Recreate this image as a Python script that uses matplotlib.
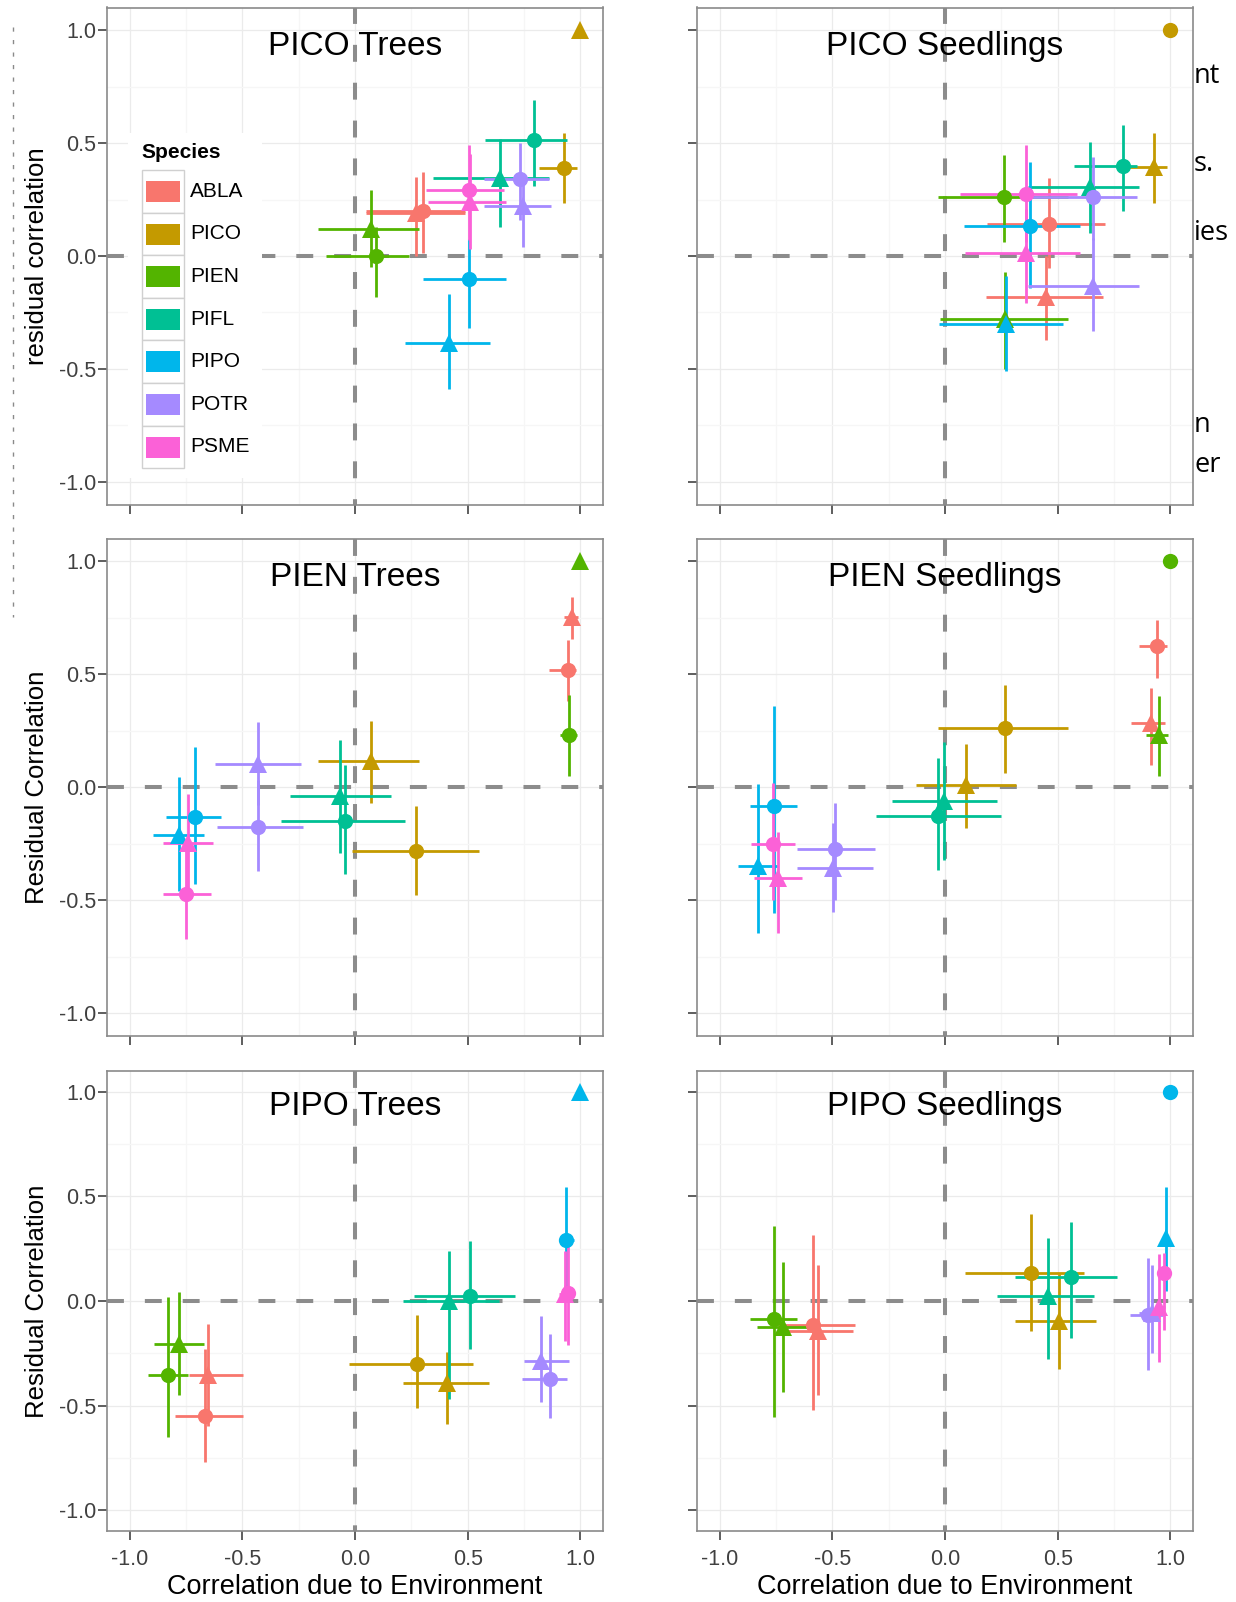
import numpy as np
import matplotlib
matplotlib.use("Agg")
import matplotlib.pyplot as plt
from matplotlib.patches import Rectangle
from matplotlib.lines import Line2D

plt.rcParams["font.family"] = ["Liberation Sans", "DejaVu Sans"]
plt.rcParams["axes.unicode_minus"] = False

species = ["ABLA", "PICO", "PIEN", "PIFL", "PIPO", "POTR", "PSME"]
colours = ["#F8766D", "#C49A00", "#53B400", "#00C094", "#00B6EB", "#A58AFF", "#FB61D7"]

# every panel holds the same 14 points: species x (circle, triangle)
pt_sp = ["ABLA", "ABLA", "PICO", "PICO", "PIEN", "PIEN", "PIFL", "PIFL",
         "PIPO", "PIPO", "POTR", "POTR", "PSME", "PSME"]
pt_mk = ["o", "^"] * 7

nan = np.nan

# PICO Trees
pico_tr_x   = [0.30, 0.27, 0.925, 1.0, 0.095, 0.07, 0.795, 0.645, 0.505, 0.415, 0.73, 0.745, 0.505, 0.51]
pico_tr_xlo = [0.05, 0.05, 0.815, nan, -0.13, -0.165, 0.575, 0.345, 0.30, 0.22, 0.57, 0.57, 0.315, 0.325]
pico_tr_xhi = [0.49, 0.49, 0.985, nan, 0.24, 0.285, 0.94, 0.86, 0.67, 0.60, 0.86, 0.87, 0.66, 0.67]
pico_tr_y   = [0.20, 0.19, 0.39, 1.0, 0.0, 0.12, 0.515, 0.345, -0.10, -0.385, 0.34, 0.22, 0.29, 0.24]
pico_tr_ylo = [0.015, 0.0, 0.235, nan, -0.18, -0.05, 0.31, 0.13, -0.32, -0.59, 0.16, 0.04, 0.07, 0.03]
pico_tr_yhi = [0.37, 0.35, 0.545, nan, 0.13, 0.29, 0.69, 0.52, 0.075, -0.17, 0.50, 0.35, 0.49, 0.45]

# PICO Seedlings
pico_se_x   = [0.46, 0.45, 1.0, 0.925, 0.26, 0.265, 0.79, 0.645, 0.375, 0.27, 0.655, 0.655, 0.36, 0.36]
pico_se_xlo = [0.185, 0.18, nan, 0.815, -0.03, -0.02, 0.57, 0.37, 0.085, -0.025, 0.37, 0.37, 0.065, 0.09]
pico_se_xhi = [0.71, 0.70, nan, 0.985, 0.545, 0.545, 0.85, 0.86, 0.60, 0.525, 0.85, 0.86, 0.585, 0.60]
pico_se_y   = [0.14, -0.18, 1.0, 0.395, 0.26, -0.28, 0.40, 0.305, 0.135, -0.30, 0.26, -0.135, 0.275, 0.012]
pico_se_ylo = [-0.055, -0.37, nan, 0.235, 0.06, -0.50, 0.20, 0.10, -0.14, -0.51, 0.07, -0.33, 0.06, -0.21]
pico_se_yhi = [0.345, 0.0, nan, 0.545, 0.445, -0.07, 0.58, 0.505, 0.415, -0.09, 0.44, 0.08, 0.49, 0.21]

# PIEN Trees
pien_tr_x   = [0.945, 0.962, 0.27, 0.07, 0.95, 1.0, -0.045, -0.065, -0.71, -0.78, -0.43, -0.43, -0.75, -0.74]
pien_tr_xlo = [0.86, 0.925, -0.015, -0.165, 0.91, nan, -0.33, -0.29, -0.84, -0.895, -0.61, -0.62, -0.85, -0.85]
pien_tr_xhi = [0.98, 0.99, 0.55, 0.285, 0.985, nan, 0.22, 0.16, -0.595, -0.67, -0.23, -0.24, -0.64, -0.63]
pien_tr_y   = [0.52, 0.755, -0.28, 0.115, 0.23, 1.0, -0.15, -0.04, -0.13, -0.21, -0.175, 0.105, -0.47, -0.245]
pien_tr_ylo = [0.38, 0.655, -0.475, -0.07, 0.05, nan, -0.385, -0.29, -0.43, -0.46, -0.37, -0.08, -0.67, -0.45]
pien_tr_yhi = [0.65, 0.84, -0.085, 0.295, 0.41, nan, 0.10, 0.21, 0.18, 0.045, 0.03, 0.29, -0.26, -0.03]

# PIEN Seedlings
pien_se_x   = [0.94, 0.915, 0.265, 0.095, 1.0, 0.95, -0.03, -0.005, -0.76, -0.83, -0.49, -0.495, -0.765, -0.74]
pien_se_xlo = [0.86, 0.825, -0.03, -0.13, nan, 0.89, -0.305, -0.235, -0.865, -0.92, -0.655, -0.655, -0.86, -0.845]
pien_se_xhi = [0.985, 0.975, 0.545, 0.315, nan, 0.99, 0.25, 0.23, -0.655, -0.74, -0.31, -0.32, -0.665, -0.635]
pien_se_y   = [0.625, 0.285, 0.26, 0.012, 1.0, 0.23, -0.125, -0.06, -0.085, -0.35, -0.275, -0.355, -0.25, -0.40]
pien_se_ylo = [0.485, 0.10, 0.065, -0.18, nan, 0.05, -0.365, -0.32, -0.555, -0.645, -0.50, -0.55, -0.50, -0.645]
pien_se_yhi = [0.74, 0.44, 0.45, 0.19, nan, 0.405, 0.13, 0.20, 0.36, 0.015, -0.07, -0.16, 0.02, -0.20]

# PIPO Trees
pipo_tr_x   = [-0.665, -0.65, 0.275, 0.41, -0.83, -0.78, 0.51, 0.415, 0.935, 1.0, 0.865, 0.825, 0.945, 0.93]
pipo_tr_xlo = [-0.80, -0.735, -0.025, 0.215, -0.92, -0.89, 0.26, 0.215, 0.91, nan, 0.74, 0.75, 0.925, 0.905]
pipo_tr_xhi = [-0.495, -0.495, 0.525, 0.595, -0.74, -0.67, 0.71, 0.64, 0.97, nan, 0.94, 0.95, 0.975, 0.96]
pipo_tr_y   = [-0.55, -0.355, -0.30, -0.39, -0.355, -0.205, 0.025, 0.0, 0.29, 1.0, -0.375, -0.285, 0.04, 0.035]
pipo_tr_ylo = [-0.77, -0.60, -0.51, -0.59, -0.65, -0.45, -0.23, -0.47, 0.04, nan, -0.56, -0.485, -0.21, -0.19]
pipo_tr_yhi = [-0.23, -0.11, -0.065, -0.245, 0.02, 0.045, 0.285, 0.24, 0.545, nan, -0.16, -0.07, 0.27, 0.24]

# PIPO Seedlings
pipo_se_x   = [-0.585, -0.565, 0.38, 0.505, -0.76, -0.72, 0.56, 0.455, 1.0, 0.98, 0.90, 0.92, 0.97, 0.95]
pipo_se_xlo = [-0.74, -0.705, 0.09, 0.31, -0.865, -0.835, 0.31, 0.23, nan, 0.965, 0.82, 0.86, 0.955, 0.935]
pipo_se_xhi = [-0.40, -0.41, 0.615, 0.67, -0.655, -0.605, 0.765, 0.66, nan, 0.995, 0.965, 0.97, 0.99, 0.975]
pipo_se_y   = [-0.115, -0.145, 0.135, -0.095, -0.085, -0.125, 0.115, 0.025, 1.0, 0.30, -0.067, -0.055, 0.134, -0.03]
pipo_se_ylo = [-0.52, -0.45, -0.145, -0.325, -0.555, -0.435, -0.175, -0.275, nan, 0.05, -0.33, -0.25, -0.14, -0.29]
pipo_se_yhi = [0.315, 0.17, 0.415, 0.13, 0.36, 0.185, 0.38, 0.30, nan, 0.545, 0.205, 0.17, 0.23, 0.225]

panels = [
    ("PICO Trees", pico_tr_x, pico_tr_xlo, pico_tr_xhi, pico_tr_y, pico_tr_ylo, pico_tr_yhi),
    ("PICO Seedlings", pico_se_x, pico_se_xlo, pico_se_xhi, pico_se_y, pico_se_ylo, pico_se_yhi),
    ("PIEN Trees", pien_tr_x, pien_tr_xlo, pien_tr_xhi, pien_tr_y, pien_tr_ylo, pien_tr_yhi),
    ("PIEN Seedlings", pien_se_x, pien_se_xlo, pien_se_xhi, pien_se_y, pien_se_ylo, pien_se_yhi),
    ("PIPO Trees", pipo_tr_x, pipo_tr_xlo, pipo_tr_xhi, pipo_tr_y, pipo_tr_ylo, pipo_tr_yhi),
    ("PIPO Seedlings", pipo_se_x, pipo_se_xlo, pipo_se_xhi, pipo_se_y, pipo_se_ylo, pipo_se_yhi),
]
ylabels = ["residual correlation", "Residual Correlation", "Residual Correlation"]
xlabel = "Correlation due to Environment"
col = dict(zip(species, colours))

W, H = 1236, 1602
fig = plt.figure(figsize=(W / 100, H / 100), dpi=100)

# panel placement in pixels (left, width) / (top, height)
xcols = [(107, 496), (697, 496)]
yrows = [(7.5, 497), (538.5, 497.5), (1071, 460)]

dash = (0, (4.2, 5.2))

for k, (title, x, xlo, xhi, y, ylo, yhi) in enumerate(panels):
    r, c = divmod(k, 2)
    l, w = xcols[c]
    t, h = yrows[r]
    ax = fig.add_axes([l / W, 1 - (t + h) / H, w / W, h / H])
    ax.set_xlim(-1.1, 1.1)
    ax.set_ylim(-1.1, 1.1)
    ax.set_xticks([-1, -0.5, 0, 0.5, 1])
    ax.set_yticks([-1, -0.5, 0, 0.5, 1])
    ax.set_xticks([-0.75, -0.25, 0.25, 0.75], minor=True)
    ax.set_yticks([-0.75, -0.25, 0.25, 0.75], minor=True)
    ax.xaxis.set_major_formatter(plt.FormatStrFormatter("%.1f"))
    ax.yaxis.set_major_formatter(plt.FormatStrFormatter("%.1f"))
    ax.set_axisbelow(True)
    ax.grid(which="major", color="#EBEBEB", lw=0.9)
    ax.grid(which="minor", color="#F6F6F6", lw=0.9)
    for s in ax.spines.values():
        s.set_color("#8A8A8A")
        s.set_linewidth(1.2)
    ax.tick_params(which="minor", length=0)
    ax.tick_params(which="major", direction="out", length=6.5, width=1.1,
                   color="#333333", labelsize=15.5, labelcolor="#404040", pad=1.5)
    if r < 2:
        ax.tick_params(labelbottom=False)
    else:
        ax.tick_params(axis="x", pad=6.5)
        ax.set_xlabel(xlabel, fontsize=19.5, va="center")
        ax.xaxis.set_label_coords(0.5, (1531 - 1587) / h)
    if c == 1:
        ax.tick_params(labelleft=False)
    else:
        ax.set_ylabel(ylabels[r], fontsize=18.5, va="center")
        ax.yaxis.set_label_coords((37 - l) / w, 0.5)

    ax.axhline(0, color="#8C8C8C", lw=2.9, ls=dash, zorder=2)
    ax.plot([0, 0], [1.1, -1.1], color="#8C8C8C", lw=2.9, ls=dash, zorder=2)

    ax.text(0, 0.89, title, ha="center", va="baseline", fontsize=24, color="black", zorder=2.5)

    for i in range(len(x)):
        cc = col[pt_sp[i]]
        if not np.isnan(xlo[i]):
            ax.hlines(y[i], xlo[i], xhi[i], color=cc, lw=2.0, zorder=3)
            ax.vlines(x[i], ylo[i], yhi[i], color=cc, lw=2.0, zorder=3)
    for i in range(len(x)):
        cc = col[pt_sp[i]]
        ms = 13.5 if pt_mk[i] == "^" else 11
        ax.plot(x[i], y[i], marker=pt_mk[i], ms=ms, color=cc, mew=0, ls="none",
                zorder=4, clip_on=False)


def fig_rect(x0, y0, w, h, **kw):
    return Rectangle((x0 / W, 1 - (y0 + h) / H), w / W, h / H,
                     transform=fig.transFigure, **kw)


# legend drawn by hand, ggplot style
fig.add_artist(fig_rect(128, 133, 134, 345, facecolor="white", edgecolor="none", zorder=5))
fig.text(141 / W, 1 - 153 / H, "Species", fontsize=15, fontweight="bold",
         va="center", ha="left", zorder=6)
cell = 42.6
for i, sp in enumerate(species):
    top = 170 + i * cell
    fig.add_artist(fig_rect(142, top, 42, cell, facecolor="white",
                            edgecolor="#D0D0D0", lw=1.0, zorder=6))
    fig.add_artist(fig_rect(146, top + 11, 34, 21, facecolor=col[sp],
                            edgecolor="none", zorder=7))
    fig.text(190 / W, 1 - (top + cell / 2) / H, sp, fontsize=15, va="center",
             ha="left", zorder=7)

# fragments of page text showing at the right edge
frag_text = ["nt", "s.", "ies", "n", "er"]
frag_base = [83, 171, 240, 432, 472]
for s, b in zip(frag_text, frag_base):
    fig.text(1194 / W, 1 - b / H, s, fontsize=19.5, va="baseline", ha="left",
             family=["Open Sans", "DejaVu Sans"], color="black")

# faint remnant of a rotated label at the far left
fig.add_artist(Line2D([13 / W, 13 / W], [1 - 27 / H, 1 - 617 / H],
                      transform=fig.transFigure, color="#8A8A8A", lw=1.0,
                      ls=(0, (3, 6))))

fig.savefig("out.png", dpi=100)
